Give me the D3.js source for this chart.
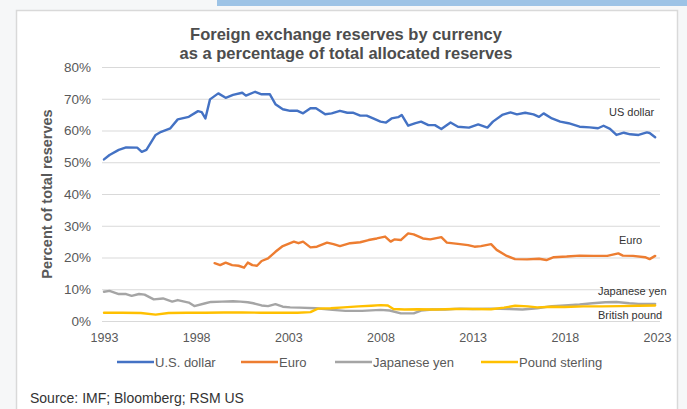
<!DOCTYPE html>
<html>
<head>
<meta charset="utf-8">
<script src="https://cdn.jsdelivr.net/npm/d3@7"></script>
<style>
html,body{margin:0;padding:0;background:#f6f7f8;}
svg{display:block;font-family:"Liberation Sans",Arial,sans-serif;}
</style>
</head>
<body>
<svg id="chart" width="687" height="409"></svg>
<script>
const titleLines = ["Foreign exchange reserves by currency", "as a percentage of total allocated reserves"];
const yTitle = "Percent of total reserves";
const source = "Source: IMF; Bloomberg; RSM US";
const yTicks = [0, 10, 20, 30, 40, 50, 60, 70, 80];
const xTicks = [1993, 1998, 2003, 2008, 2013, 2018, 2023];
const seriesNames = ["U.S. dollar", "Euro", "Japanese yen", "Pound sterling"];
const endLabels = ["US dollar", "Euro", "Japanese yen", "British pound"];
const colors = ["#4472c4", "#ed7d31", "#a5a5a5", "#ffc000"];

const usdYears = [1993.0,1993.3,1993.8,1994.2,1994.8,1995.05,1995.3,1995.8,1996.1,1996.6,1997.0,1997.6,1998.1,1998.3,1998.5,1998.75,1999.2,1999.6,2000.0,2000.5,2000.7,2001.2,2001.55,2002.0,2002.3,2002.7,2003.1,2003.5,2003.8,2004.2,2004.5,2005.0,2005.35,2005.8,2006.2,2006.5,2006.9,2007.25,2007.6,2008.0,2008.3,2008.6,2008.96,2009.15,2009.5,2009.9,2010.2,2010.6,2010.95,2011.3,2011.8,2012.2,2012.8,2013.3,2013.8,2014.1,2014.6,2015.05,2015.4,2015.85,2016.3,2016.6,2016.85,2017.3,2017.75,2018.2,2018.8,2019.35,2019.8,2020.1,2020.45,2020.8,2021.2,2021.55,2022.0,2022.45,2022.6,2022.9];
const usdValues = [50.9,52.3,53.9,54.7,54.6,53.3,53.9,58.6,59.6,60.7,63.5,64.3,66.1,65.8,63.8,69.8,71.7,70.3,71.2,71.9,71.0,72.2,71.4,71.4,68.3,66.7,66.2,66.2,65.4,67.0,67.0,65.1,65.4,66.2,65.6,65.6,64.7,64.7,63.8,62.8,62.5,63.8,64.2,64.9,61.5,62.3,62.8,61.7,61.7,60.5,62.5,61.2,60.9,61.9,60.9,62.8,64.9,65.7,65.1,65.6,65.1,64.3,65.4,63.8,62.8,62.3,61.2,61.0,60.7,61.5,60.5,58.6,59.3,58.8,58.6,59.4,59.2,57.9];

const eurYears = [1999.0,1999.3,1999.6,1999.95,2000.3,2000.6,2000.8,2001.05,2001.3,2001.55,2001.9,2002.3,2002.7,2003.3,2003.55,2003.8,2004.2,2004.55,2005.1,2005.45,2005.8,2006.35,2006.9,2007.35,2007.8,2008.25,2008.55,2008.75,2009.1,2009.5,2009.8,2010.3,2010.7,2011.3,2011.6,2012.2,2012.75,2013.1,2013.45,2014.0,2014.3,2014.85,2015.3,2015.95,2016.6,2017.0,2017.4,2018.1,2018.8,2019.55,2020.3,2020.9,2021.15,2021.7,2022.35,2022.6,2022.9];
const eurValues = [18.2,17.6,18.4,17.6,17.4,16.8,18.4,17.6,17.4,18.9,19.7,21.8,23.6,25.0,24.5,25.0,23.2,23.4,24.7,24.2,23.6,24.5,24.8,25.5,26.0,26.6,25.0,25.7,25.5,27.6,27.3,26.0,25.7,26.4,24.7,24.3,23.9,23.4,23.6,24.2,22.4,20.5,19.5,19.4,19.6,19.2,20.1,20.3,20.6,20.5,20.5,21.3,20.6,20.5,20.1,19.5,20.5];

const jpyYears = [1993.0,1993.3,1993.8,1994.2,1994.5,1994.9,1995.2,1995.7,1996.2,1996.7,1997.0,1997.6,1997.9,1998.5,1998.8,1999.4,2000.0,2000.4,2000.8,2001.1,2001.55,2001.9,2002.3,2002.7,2003.1,2003.6,2004.5,2005.4,2006.1,2007.0,2008.0,2008.5,2009.1,2009.8,2010.2,2010.8,2011.5,2012.3,2013.0,2014.0,2015.0,2015.7,2016.5,2017.3,2018.0,2018.8,2019.5,2020.2,2020.8,2021.5,2022.0,2022.5,2022.9];
const jpyValues = [9.2,9.5,8.5,8.5,7.9,8.5,8.3,6.8,7.1,6.1,6.6,5.8,4.7,5.6,6.0,6.1,6.2,6.1,5.9,5.6,4.9,4.7,5.3,4.5,4.3,4.2,4.0,3.5,3.2,3.2,3.5,3.3,2.4,2.4,3.3,3.6,3.6,3.9,3.8,3.9,3.8,3.6,4.0,4.7,4.9,5.2,5.6,5.9,6.0,5.6,5.4,5.4,5.4];

const gbpYears = [1993.0,1994.0,1995.0,1995.8,1996.5,1997.5,1998.5,1999.5,2000.5,2001.5,2002.5,2003.5,2004.2,2004.6,2005.3,2006.0,2006.8,2007.5,2008.0,2008.4,2008.7,2009.3,2010.0,2011.0,2012.0,2013.0,2014.0,2014.7,2015.3,2016.0,2016.5,2017.3,2018.0,2019.0,2020.0,2021.0,2022.0,2022.9];
const gbpValues = [2.6,2.6,2.5,2.0,2.5,2.6,2.6,2.7,2.7,2.6,2.6,2.6,2.8,3.9,4.0,4.3,4.6,4.8,5.0,4.9,3.8,3.6,3.7,3.6,3.8,3.8,3.7,4.2,4.8,4.6,4.3,4.5,4.4,4.6,4.6,4.7,4.8,4.9];

const series = [
  {name: seriesNames[0], years: usdYears, values: usdValues},
  {name: seriesNames[1], years: eurYears, values: eurValues},
  {name: seriesNames[2], years: jpyYears, values: jpyValues},
  {name: seriesNames[3], years: gbpYears, values: gbpValues}
];

const svg = d3.select("#chart");
const textCol = "#595959";

// decoration
svg.append("rect").attr("x", 217).attr("y", 0).attr("width", 470).attr("height", 6).attr("fill", "#9dc3e6");
svg.append("rect").attr("x", 16.5).attr("y", 10.5).attr("width", 661).attr("height", 410)
  .attr("fill", "#ffffff").attr("stroke", "#d9d9d9").attr("stroke-width", 1.5);

const x = d3.scaleLinear().domain([1993, 2023]).range([104, 657]);
const y = d3.scaleLinear().domain([0, 80]).range([321, 67]);

// title
svg.append("g").selectAll("text").data(titleLines).join("text")
  .attr("x", 346).attr("y", (d, i) => 40 + i * 18.5)
  .attr("text-anchor", "middle").attr("font-size", 16.5).attr("font-weight", "bold")
  .attr("fill", "#4d4d4d").text(d => d);

// gridlines
svg.append("g").attr("transform", "translate(102,0)")
  .call(d3.axisLeft(y).tickValues(yTicks).tickSize(-558).tickFormat(""))
  .call(g => g.select(".domain").remove())
  .call(g => g.selectAll(".tick line").attr("stroke", "#d9d9d9").attr("stroke-width", 1));

// y tick labels
svg.append("g").attr("transform", "translate(91,0)")
  .call(d3.axisLeft(y).tickValues(yTicks).tickSize(0).tickPadding(0).tickFormat(d => d + "%"))
  .call(g => g.select(".domain").remove())
  .call(g => g.selectAll("text").attr("font-size", 13.5).attr("fill", textCol)
    .attr("font-family", "Liberation Sans, Arial, sans-serif"));

// x tick labels
svg.append("g").attr("transform", "translate(0,330)")
  .call(d3.axisBottom(x).tickValues(xTicks).tickSize(0).tickPadding(3).tickFormat(d3.format("d")))
  .call(g => g.select(".domain").remove())
  .call(g => g.selectAll("text").attr("font-size", 12.5).attr("fill", textCol)
    .attr("font-family", "Liberation Sans, Arial, sans-serif"));

// y title
svg.append("text").attr("transform", "translate(52,194) rotate(-90)")
  .attr("text-anchor", "middle").attr("font-size", 14.5).attr("font-weight", "bold")
  .attr("fill", textCol).text(yTitle);

// lines
const line = d3.line().x(d => x(d[0])).y(d => y(d[1]));
svg.append("g").selectAll("path").data(series).join("path")
  .attr("d", s => line(s.years.map((t, i) => [t, s.values[i]])))
  .attr("fill", "none").attr("stroke", (s, i) => colors[i])
  .attr("stroke-width", 2.4).attr("stroke-linejoin", "round").attr("stroke-linecap", "round");

// end labels
const labelPos = [[609, 116], [619, 244], [598, 295], [598, 319]];
svg.append("g").selectAll("text").data(endLabels).join("text")
  .attr("x", (d, i) => labelPos[i][0]).attr("y", (d, i) => labelPos[i][1])
  .attr("font-size", 11).attr("fill", "#333333").text(d => d);

// legend
const legendX = [117, 241, 335, 481];
const lg = svg.append("g").selectAll("g").data(seriesNames).join("g")
  .attr("transform", (d, i) => `translate(${legendX[i]},362)`);
lg.append("line").attr("x1", 0).attr("x2", 37).attr("y1", 0).attr("y2", 0)
  .attr("stroke", (d, i) => colors[i]).attr("stroke-width", 2.4);
lg.append("text").attr("x", 38).attr("y", 4.5).attr("font-size", 13).attr("fill", textCol).text(d => d);

// source
svg.append("text").attr("x", 30).attr("y", 403).attr("font-size", 14).attr("fill", "#333333").text(source);
</script>
</body>
</html>
